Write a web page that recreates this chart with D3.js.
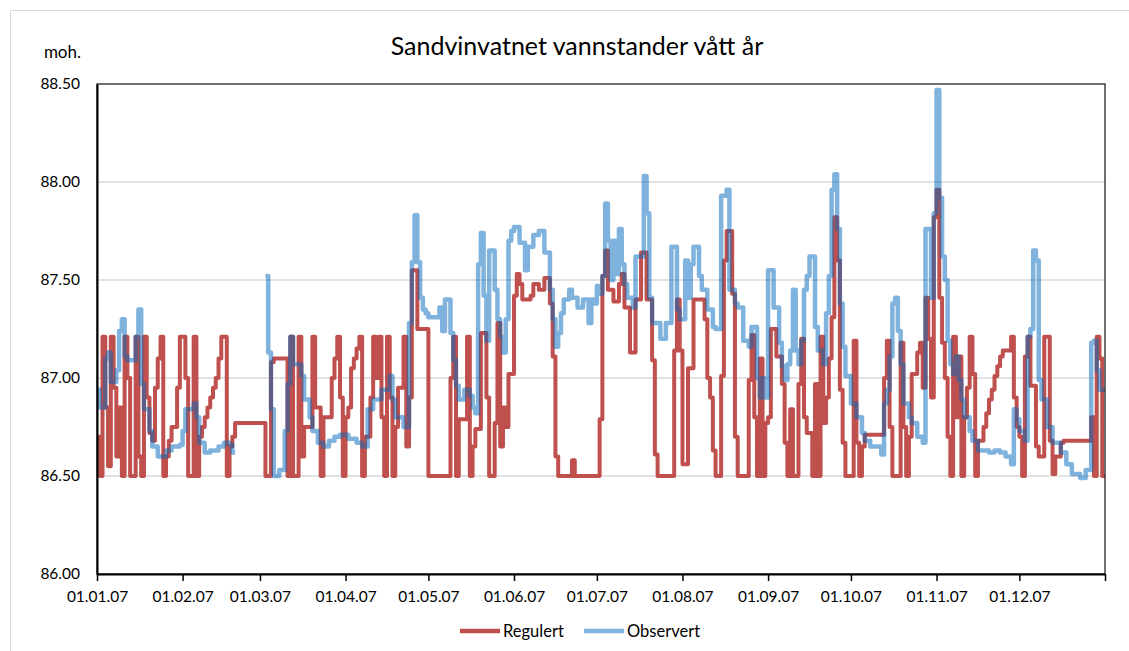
<!DOCTYPE html>
<html>
<head>
<meta charset="utf-8">
<script src="https://cdn.jsdelivr.net/npm/d3@7"></script>
<style>
  body { margin: 0; background: #fff; }
  svg { font-family: Lato, "Noto Sans", sans-serif; }
</style>
</head>
<body>
<div id="chart"></div>
<script>
// day of year (0 = 01.01.07), water level in moh.
var regulert = [
  [0,86.70],[1,86.50],[2,87.21],[3,86.85],[4,86.55],[5,87.21],[6,86.95],[7,86.60],[8,86.85],[9,86.50],
  [10,87.21],[11,87.00],[12,86.50],[14,87.21],[15,86.60],[16,86.50],[17,87.21],[18,86.90],[19,86.72],[20,86.68],
  [21,86.95],[22,87.10],[23,87.21],[24,86.50],[25,86.60],[26,86.68],[27,86.75],[29,86.95],[30,87.21],[32,87.00],
  [33,86.50],[35,87.21],[36,86.50],[37,86.70],[38,86.75],[39,86.80],[40,86.85],[41,86.90],[42,86.95],[43,87.00],
  [44,87.10],[45,87.21],[47,86.50],[48,86.65],[49,86.70],[50,86.77],
  [61,86.50],[63,87.08],[64,87.10],[69,86.50],[70,87.21],[71,86.50],[73,87.21],[74,86.60],[75,86.75],[78,87.21],
  [79,86.85],[81,86.50],[82,86.80],[85,87.00],[86,87.10],[87,87.21],[88,86.90],[89,86.50],[90,86.80],[91,86.85],
  [92,87.05],[93,87.10],[94,87.15],[95,87.21],[96,86.50],[97,86.70],[99,86.90],[100,87.21],[101,87.00],[102,87.21],
  [103,86.80],[104,86.50],[105,87.21],[106,86.90],[107,86.50],[108,86.75],[109,86.95],[111,87.21],[112,86.65],[113,86.90],
  [114,87.55],[116,87.25],[120,86.50],
  [128,87.00],[129,87.21],[130,86.50],[131,86.79],[134,87.21],[135,86.50],[136,86.65],[137,86.74],[139,87.23],[141,86.90],
  [142,86.50],[144,86.77],[145,87.28],[146,86.65],[147,86.85],[148,86.75],[149,87.02],[151,87.42],[152,87.53],[153,87.48],
  [154,87.40],[157,87.42],[158,87.48],[160,87.45],[162,87.51],[164,87.38],[165,87.11],[166,86.60],[167,86.50],[172,86.58],
  [173,86.50],
  [182,86.79],[183,87.52],[184,87.65],[185,87.45],[187,87.39],[189,87.48],[190,87.53],[191,87.36],[193,87.13],[195,87.40],
  [197,87.64],[199,87.40],[201,87.09],[202,86.61],[203,86.50],[209,87.14],[210,87.40],[211,87.14],[212,86.56],[214,87.05],
  [216,87.40],[220,87.30],[221,87.00],[222,86.90],[223,86.63],[224,86.50],[226,87.01],[227,87.60],[228,87.75],[230,87.43],
  [231,86.70],[232,86.50],[236,86.99],[237,87.22],[238,86.80],[239,86.50],[240,87.10],[241,86.50],[242,86.77],[243,86.80],
  [244,87.25],[246,87.11],[248,86.97],[249,86.67],[250,86.50],[251,86.84],[252,86.50],[254,86.97],[255,87.20],[256,86.80],
  [257,86.72],[259,86.50],[260,86.97],[261,86.50],[262,87.21],[263,86.77],[264,86.90],[265,87.10],[266,87.31],[267,87.82],
  [268,87.60],[269,86.94],[270,86.67],[271,86.50],[274,87.19],[275,86.67],[276,86.50],[277,86.65],[278,86.71],[285,87.00],
  [286,87.19],[287,86.75],[288,86.50],[291,87.18],[292,86.75],[293,86.50],[294,86.70],[295,87.02],[297,87.13],[298,87.18],
  [299,86.95],[300,87.41],[301,87.20],[302,86.90],[303,87.82],[304,87.96],[305,87.41],[306,87.18],[307,87.00],[308,86.70],
  [309,86.50],[310,87.21],[311,86.80],[312,87.11],[313,86.50],[314,86.80],[315,86.95],[316,87.21],[317,87.02],[318,86.50],
  [319,86.68],[321,86.75],[322,86.82],[323,86.89],[324,86.94],[325,87.01],[326,87.06],[327,87.11],[328,87.14],[331,87.21],
  [332,86.90],[333,86.75],[334,86.70],[335,86.50],[336,87.11],[337,87.21],[338,86.96],[340,86.65],[341,86.60],[343,87.21],
  [345,86.68],[346,86.51],[347,86.60],[349,86.67],[350,86.68],[360,86.80],[361,86.50],[362,87.21],[363,87.10],[364,86.50],
  [365,86.50]
];

var observert = [
  [0,86.94],[1,86.85],[3,87.10],[4,87.13],[5,86.98],[7,87.04],[8,87.24],[9,87.30],[10,87.11],[11,87.09],
  [14,87.21],[15,87.35],[16,86.97],[17,86.84],[19,86.73],[20,86.65],[22,86.60],[25,86.63],[27,86.65],[30,86.66],
  [31,86.73],[32,86.84],[35,86.87],[36,86.80],[37,86.67],[39,86.62],[41,86.63],[44,86.65],[46,86.67],[48,86.66],
  [49,86.62],[50,86.62],[51,null],
  [61,87.52],[62,87.13],[63,86.84],[64,86.50],[66,86.53],[68,86.73],[69,86.97],[70,87.21],[71,87.07],[74,87.01],
  [75,86.89],[77,86.80],[78,86.73],[80,86.67],[82,86.65],[84,86.68],[86,86.70],[88,86.71],[91,86.69],[94,86.67],
  [96,86.65],[98,86.84],[100,86.89],[103,86.94],[106,87.01],[107,86.89],[108,86.80],[111,86.75],[113,87.28],[114,87.59],
  [115,87.83],[116,87.59],[117,87.41],[118,87.35],[119,87.33],
  [120,87.31],[124,87.36],[125,87.24],[126,87.40],[128,87.23],[129,87.09],[130,86.96],[131,86.89],[133,86.94],[135,86.91],
  [136,86.85],[137,86.82],[138,87.58],[139,87.74],[140,87.42],[141,87.19],[142,87.65],[144,87.45],[145,87.30],[146,87.21],
  [147,87.13],[148,87.30],[149,87.70],[150,87.75],[151,87.77],[153,87.69],[155,87.55],[156,87.67],[158,87.73],[160,87.75],
  [162,87.64],[164,87.45],[165,87.30],[166,87.16],[167,87.23],[168,87.33],[169,87.40],[171,87.45],[172,87.41],[174,87.36],
  [176,87.40],[178,87.28],[179,87.40],[180,87.38],[181,87.47],[182,87.43],[183,87.52],[184,87.89],[185,87.70],[186,87.50],
  [187,87.70],[188,87.53],[189,87.76],[190,87.58],[191,87.48],[192,87.41],[194,87.36],[195,87.62],[198,88.03],[199,87.84],
  [200,87.41],[201,87.28],[204,87.20],[206,87.28],[208,87.67],[210,87.35],[211,87.30],[213,87.60],[214,87.41],[215,87.58],
  [216,87.67],[218,87.52],[219,87.45],[221,87.35],[223,87.26],[224,87.25],[226,87.93],[228,87.96],[229,87.45],[231,87.38],
  [232,87.36],[234,87.19],[236,87.16],[237,87.26],[239,87.00],[240,86.90],[241,87.00],[242,86.90],
  [243,87.55],[245,87.36],[247,87.18],[248,87.06],[249,86.99],[250,87.07],[251,87.14],[252,87.45],[253,87.14],[254,87.07],
  [255,87.19],[256,87.45],[257,87.52],[258,87.62],[260,87.26],[261,87.14],[263,87.07],[264,87.33],[265,87.52],[266,87.96],
  [267,88.04],[268,87.76],[269,87.38],[270,87.16],[271,87.01],[273,86.87],[275,86.80],[277,86.72],[278,86.68],[280,86.65],
  [284,86.61],[285,86.87],[286,86.94],[287,87.11],[288,87.38],[289,87.41],[290,87.24],[291,87.07],[292,86.87],[294,86.80],
  [295,86.77],[297,86.70],[299,86.67],[300,87.76],[302,87.41],[303,87.84],[304,88.47],[305,87.92],[306,87.62],[307,87.50],
  [308,87.19],[309,87.07],[310,87.02],[311,87.11],[312,86.99],[313,86.89],[314,86.80],[316,86.73],[317,86.68],[319,86.63],
  [323,86.62],[325,86.63],[327,86.62],[329,86.60],[331,86.56],[332,86.84],[333,86.79],[334,86.73],[336,86.68],[337,87.21],
  [338,87.25],[339,87.65],[340,87.60],[341,86.99],[342,86.89],[344,86.75],[346,86.67],[349,86.62],[351,86.56],[353,86.51],
  [356,86.49],[358,86.53],[360,87.18],[361,87.19],[362,87.04],[363,86.94],[365,86.94]
];

var yTicks = [86.00, 86.50, 87.00, 87.50, 88.00, 88.50];
var seriesNames = ["Regulert", "Observert"];
var title = "Sandvinvatnet vannstander vått år";
var yUnit = "moh.";

var W = 1129, H = 651,
    margin = { top: 84, right: 24, bottom: 77, left: 97 },
    width = W - margin.left - margin.right,
    height = H - margin.top - margin.bottom;

var start = new Date(2007, 0, 1), end = new Date(2008, 0, 1);
function dayDate(d) { return d3.timeDay.offset(start, d); }

var svg = d3.select("#chart").append("svg")
    .attr("width", W).attr("height", H);

svg.append("rect")
    .attr("x", 10.5).attr("y", 10.5)
    .attr("width", 1130).attr("height", 660)
    .attr("fill", "none").attr("stroke", "#d9d9d9");

var g = svg.append("g").attr("transform", "translate(" + margin.left + "," + margin.top + ")");

var x = d3.scaleTime().domain([start, end]).range([0, width]);
var y = d3.scaleLinear().domain([86, 88.5]).range([height, 0]);

// gridlines
g.append("g").selectAll("line")
    .data(yTicks.filter(function(v) { return v > 86 && v < 88.5; }))
    .enter().append("line")
    .attr("x1", 0).attr("x2", width)
    .attr("y1", function(d) { return y(d); })
    .attr("y2", function(d) { return y(d); })
    .attr("stroke", "#d9d9d9").attr("stroke-width", 1.5);

var line = d3.line()
    .defined(function(d) { return d[1] != null; })
    .x(function(d) { return x(dayDate(d[0])); })
    .y(function(d) { return y(d[1]); })
    .curve(d3.curveStepAfter);

g.append("path")
    .datum(regulert)
    .attr("fill", "none")
    .attr("stroke", "#c0504d")
    .attr("stroke-width", 4)
    .attr("stroke-linejoin", "round")
    .attr("d", line);

g.append("path")
    .datum(observert)
    .attr("fill", "none")
    .attr("stroke", "rgb(0,103,188)")
    .attr("stroke-opacity", 0.5)
    .attr("stroke-width", 4.5)
    .attr("stroke-linejoin", "round")
    .attr("d", line);

// plot frame
g.append("rect")
    .attr("width", width).attr("height", height)
    .attr("fill", "none").attr("stroke", "#262626").attr("stroke-width", 1.3);

// x axis
var xAxis = g.append("g")
    .attr("transform", "translate(0," + height + ")")
    .call(d3.axisBottom(x)
        .ticks(d3.timeMonth.every(1))
        .tickFormat(d3.timeFormat("%d.%m.%y"))
        .tickSize(7).tickSizeOuter(0).tickPadding(10));
xAxis.select(".domain").attr("stroke", "#000").attr("stroke-width", 2);
xAxis.selectAll(".tick line").attr("stroke", "#000").attr("stroke-width", 1.5);
xAxis.selectAll(".tick text")
    .attr("font-size", 15.5).attr("fill", "#000")
    .attr("font-family", "Lato, sans-serif")
    .filter(function(d) { return +d >= +end; }).remove();

// y axis
var yAxis = g.append("g")
    .call(d3.axisLeft(y).tickValues(yTicks).tickFormat(d3.format(".2f"))
        .tickSize(0).tickPadding(17));
yAxis.select(".domain").attr("stroke", "#000").attr("stroke-width", 2);
yAxis.selectAll(".tick text")
    .attr("font-size", 15.5).attr("fill", "#000")
    .attr("font-family", "Lato, sans-serif");

svg.append("text")
    .attr("x", 81).attr("y", 58)
    .attr("text-anchor", "end")
    .attr("font-size", 17)
    .text(yUnit);

svg.append("text")
    .attr("x", 577).attr("y", 55)
    .attr("text-anchor", "middle")
    .attr("font-size", 25)
    .text(title);

// legend
var legend = svg.append("g").attr("transform", "translate(0,631)");
var legendX = [460, 584];
var legendColor = ["#c0504d", "rgba(0,103,188,0.5)"];
seriesNames.forEach(function(name, i) {
    legend.append("line")
        .attr("x1", legendX[i]).attr("x2", legendX[i] + 40)
        .attr("stroke", legendColor[i]).attr("stroke-width", 4.5);
    legend.append("text")
        .attr("x", legendX[i] + 43).attr("y", 5.5)
        .attr("font-size", 16.5)
        .text(name);
});
</script>
</body>
</html>
